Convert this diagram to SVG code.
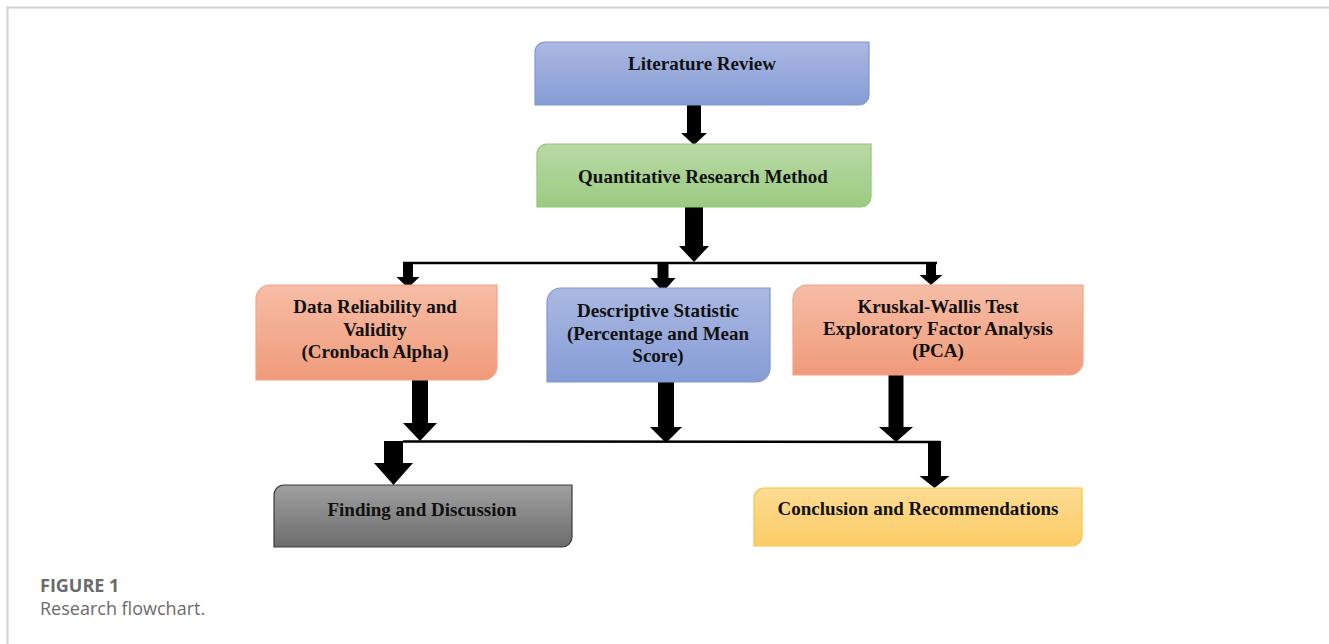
<svg xmlns="http://www.w3.org/2000/svg" width="1329" height="644" viewBox="0 0 1329 644">
<defs>
<linearGradient id="gBlue" x1="0" y1="0" x2="0" y2="1"><stop offset="0" stop-color="#abb9e2"/><stop offset="1" stop-color="#869cd6"/></linearGradient>
<linearGradient id="gGreen" x1="0" y1="0" x2="0" y2="1"><stop offset="0" stop-color="#b9d9a6"/><stop offset="1" stop-color="#9bcb80"/></linearGradient>
<linearGradient id="gSalmon" x1="0" y1="0" x2="0" y2="1"><stop offset="0" stop-color="#f6bda6"/><stop offset="1" stop-color="#f09b7a"/></linearGradient>
<linearGradient id="gGray" x1="0" y1="0" x2="0" y2="1"><stop offset="0" stop-color="#a0a0a0"/><stop offset="1" stop-color="#6c6c6c"/></linearGradient>
<linearGradient id="gYellow" x1="0" y1="0" x2="0" y2="1"><stop offset="0" stop-color="#fddc92"/><stop offset="1" stop-color="#fbcb66"/></linearGradient>
</defs>
<style>
.box{stroke-width:1.2}
.t{font-family:"Liberation Serif","Times New Roman",serif;font-weight:bold;font-size:19px;fill:#111;text-anchor:middle}
.arrow{fill:#000}
.ln{stroke:#000;stroke-width:2.5;fill:none}
.cap1{font-family:"Open Sans","Liberation Sans",sans-serif;font-weight:bold;font-size:18px;fill:#6b6b6b}
.cap2{font-family:"Open Sans","Liberation Sans",sans-serif;font-size:18px;fill:#6b6b6b}
</style>
<rect width="1329" height="644" fill="#fff"/>
<path d="M7.5 644 V7.5 H1329" fill="none" stroke="#d2d2d2" stroke-width="2"/>

<g id="connectors">
<polygon class="arrow" points="687,105 701,105 701,133 707,133 694,145 681,133 687,133"/>
<polygon class="arrow" points="685,207 703,207 703,246 709,246 694,262 679,246 685,246"/>
<line class="ln" x1="403" y1="263" x2="937" y2="263"/>
<polygon class="arrow" points="403,263 413,263 413,277 419.5,277 408,288 396.5,277 403,277"/>
<polygon class="arrow" points="657.5,263 668.5,263 668.5,278 675.5,278 663,292 650.5,278 657.5,278"/>
<polygon class="arrow" points="926,263 936,263 936,275 942.5,275 931,285 919.5,275 926,275"/>
<polygon class="arrow" points="412,380 428,380 428,423 437,423 420,441 403,423 412,423"/>
<polygon class="arrow" points="658,382 674,382 674,427 682,427 666,443 650,427 658,427"/>
<polygon class="arrow" points="888.5,375 903.5,375 903.5,427 913,427 896,442 879,427 888.5,427"/>
<line class="ln" x1="403" y1="441.5" x2="940" y2="442"/>
<polygon class="arrow" points="384,441 403,441 403,463 413,463 393.5,485 374,463 384,463"/>
<polygon class="arrow" points="928,441 941,441 941,476 949.5,476 934.5,488 919.5,476 928,476"/>
</g>

<g id="literature-review">
<path class="box" d="M535 52 A10 10 0 0 1 545 42 H869 V95 A10 10 0 0 1 859 105 H535 Z" fill="url(#gBlue)" stroke="#7f97d2"/>
<text class="t" x="702" y="70">Literature Review</text>
</g>

<g id="quantitative">
<path class="box" d="M537 154 A10 10 0 0 1 547 144 H871 V197 A10 10 0 0 1 861 207 H537 Z" fill="url(#gGreen)" stroke="#93c479"/>
<text class="t" x="703" y="183">Quantitative Research Method</text>
</g>

<g id="data-reliability">
<path class="box" d="M256 299 A14 14 0 0 1 270 285 H497 V366 A14 14 0 0 1 483 380 H256 Z" fill="url(#gSalmon)" stroke="#f2a385"/>
<text class="t" x="375" y="313">Data Reliability and</text>
<text class="t" x="375" y="336">Validity</text>
<text class="t" x="375" y="358">(Cronbach Alpha)</text>
</g>

<g id="descriptive">
<path class="box" d="M547 302 A14 14 0 0 1 561 288 H770 V368 A14 14 0 0 1 756 382 H547 Z" fill="url(#gBlue)" stroke="#7f97d2"/>
<text class="t" x="658" y="317">Descriptive Statistic</text>
<text class="t" x="658" y="340">(Percentage and Mean</text>
<text class="t" x="658" y="362">Score)</text>
</g>

<g id="kruskal">
<path class="box" d="M793 299 A14 14 0 0 1 807 285 H1083 V361 A14 14 0 0 1 1069 375 H793 Z" fill="url(#gSalmon)" stroke="#f2a385"/>
<text class="t" x="938" y="313">Kruskal-Wallis Test</text>
<text class="t" x="938" y="335">Exploratory Factor Analysis</text>
<text class="t" x="938" y="357">(PCA)</text>
</g>

<g id="finding">
<path class="box" d="M274 495 A10 10 0 0 1 284 485 H572 V537 A10 10 0 0 1 562 547 H274 Z" fill="url(#gGray)" stroke="#3a3a3a"/>
<text class="t" x="422" y="516">Finding and Discussion</text>
</g>

<g id="conclusion">
<path class="box" d="M754 498 A10 10 0 0 1 764 488 H1082 V536 A10 10 0 0 1 1072 546 H754 Z" fill="url(#gYellow)" stroke="#f6c744"/>
<text class="t" x="918" y="515">Conclusion and Recommendations</text>
</g>

<g id="caption">
<text class="cap1" x="40" y="592">FIGURE 1</text>
<text class="cap2" x="40" y="615">Research flowchart.</text>
</g>
</svg>
